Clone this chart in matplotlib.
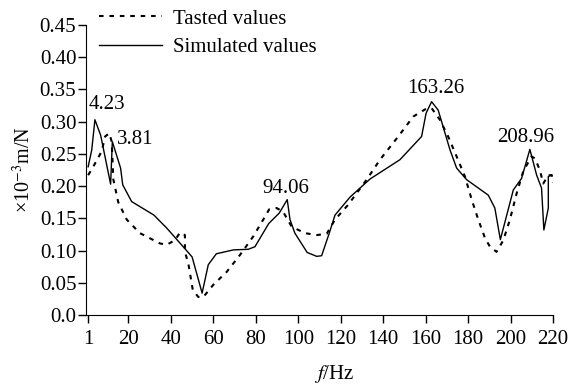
import matplotlib
matplotlib.use("Agg")
import matplotlib.pyplot as plt

plt.rcParams['font.family'] = ['Liberation Serif', 'DejaVu Serif']
plt.rcParams['mathtext.fontset'] = 'stix'

# simulated values (solid)
sim_f = [1, 2.7, 4.2, 6.9, 11.6, 12.4, 16.3, 17.3, 21.5, 32, 38, 47.1, 50.0, 54.7,
         57.6, 61.4, 69.4, 76.5, 79.6, 86.1, 91, 94.8, 96.1, 98.4, 104.2, 108.7,
         111, 114.6, 117.3, 124.4, 133.8, 147.9, 158.1, 160.2, 162.8, 165.9, 171.5,
         174.6, 179.3, 189.5, 192.6, 195.2, 201.3, 205.2, 209.1, 212.3, 214.6,
         215.7, 217.8, 217.8, 219.4]
sim_v = [0.230, 0.256, 0.303, 0.279, 0.203, 0.269, 0.228, 0.202, 0.176, 0.155, 0.135,
         0.101, 0.090, 0.034, 0.078, 0.095, 0.101, 0.102, 0.106, 0.142, 0.158, 0.179,
         0.148, 0.127, 0.097, 0.091, 0.092, 0.127, 0.155, 0.183, 0.211, 0.241, 0.277,
         0.313, 0.331, 0.318, 0.256, 0.228, 0.210, 0.186, 0.166, 0.117, 0.194, 0.212,
         0.257, 0.217, 0.197, 0.132, 0.166, 0.215, 0.217]

# tested values (dotted)
test_f = [1, 3.4, 7.4, 9, 11, 12.1, 12.9, 15.2, 19.2, 25.4, 34.9, 38, 41.9, 44.3,
          46.6, 46.6, 48.2, 50.3, 52.9, 55.3, 60, 66.3, 72.5, 78.8, 83.5, 86.3, 89.8,
          92.9, 96.9, 103.2, 108.7, 113.4, 117.3, 123.5, 132.2, 138.5, 147.1, 154.2,
          159.7, 162.8, 166.7, 170.6, 174.6, 178.5, 181.7, 184.8, 188, 190.3, 193.4,
          196.6, 199.7, 202.9, 206, 209.9, 211.5, 213.8, 215.4, 217.8, 219.4, 220]
test_v = [0.217, 0.230, 0.254, 0.277, 0.282, 0.269, 0.210, 0.175, 0.148, 0.127, 0.111,
          0.109, 0.116, 0.128, 0.124, 0.098, 0.080, 0.039, 0.028, 0.028, 0.047, 0.067,
          0.093, 0.122, 0.148, 0.164, 0.166, 0.160, 0.137, 0.127, 0.124, 0.126, 0.148,
          0.171, 0.210, 0.241, 0.277, 0.308, 0.319, 0.321, 0.303, 0.277, 0.246, 0.215,
          0.179, 0.148, 0.119, 0.106, 0.098, 0.116, 0.148, 0.189, 0.223, 0.246, 0.243,
          0.225, 0.204, 0.217, 0.217, 0.205]

peak_labels = ['4.23', '3.81', '94.06', '163.26', '208.96']
peak_pos = [(9.9, 0.326), (23, 0.272), (94, 0.197), (164.6, 0.352), (207.2, 0.275)]

xticks = [1, 20, 40, 60, 80, 100, 120, 140, 160, 180, 200, 220]
yticks = [0.0, 0.05, 0.10, 0.15, 0.20, 0.25, 0.30, 0.35, 0.40, 0.45]
ytick_labels = ['0.0', '0.05', '0.10', '0.15', '0.20', '0.25', '0.30', '0.35', '0.40', '0.45']

fs = 15
fig = plt.figure(figsize=(5.71, 3.87), dpi=100)
ax = fig.add_axes([86/571, 72/387, 467/571, 290/387])

ax.plot(test_f, test_v, color='black', lw=1.5, ls=(0, (2.2, 2.8)), label='Tasted values')
ax.plot(sim_f, sim_v, color='black', lw=1.0, label='Simulated values')

for lab, (px, py) in zip(peak_labels, peak_pos):
    ax.text(px, py, lab, ha='center', va='center', fontsize=fs)

ax.set_xlim(0, 220)
ax.set_ylim(0, 0.45)
ax.set_xticks(xticks)
ax.set_yticks(yticks)
ax.set_yticklabels(ytick_labels)
ax.tick_params(direction='out', length=6, width=1, labelsize=fs)
ax.tick_params(axis='x', pad=5)
ax.tick_params(axis='y', pad=1)
ax.spines['top'].set_visible(False)
ax.spines['right'].set_visible(False)

ax.set_ylabel(r'×10$^{-3}$m/N', fontsize=14.5)
ax.set_xlabel(r'$f$/Hz', fontsize=fs)
ax.yaxis.set_label_coords(-0.108, 0.5)
ax.xaxis.set_label_coords(0.531, -0.165)

fig.legend(loc='upper left', bbox_to_anchor=(99/571, 1 - 9/387), frameon=False,
           fontsize=fs, handlelength=3.0, handletextpad=0.55, labelspacing=0.42,
           borderpad=0, borderaxespad=0)

fig.savefig('out.png', dpi=100)
